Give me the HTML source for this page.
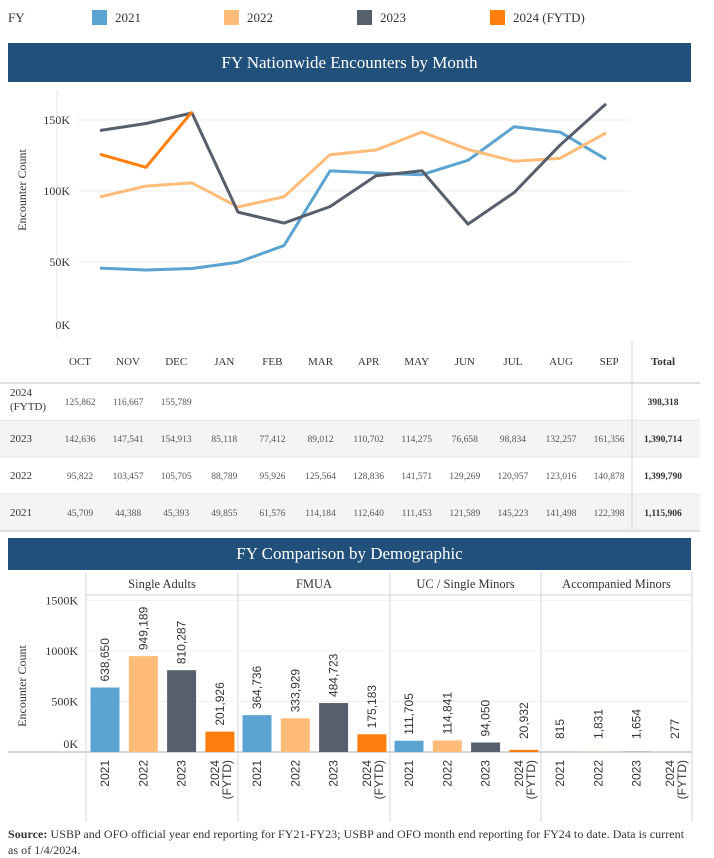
<!DOCTYPE html>
<html><head><meta charset="utf-8">
<style>
body{margin:0;width:714px;height:855px;background:#fff;font-family:"Liberation Serif",serif;color:#333;position:relative;overflow:hidden}
.abs{position:absolute}
.banner{position:absolute;left:8px;width:683px;background:#21507a;color:#fff;text-align:center;font-size:17px}
.lg{position:absolute;top:10px;font-size:13px}
.sw{display:inline-block;width:15px;height:15px;vertical-align:-3px;margin-right:8px}
</style></head><body>
<div class="lg" style="left:8px">FY</div>
<div class="lg" style="left:92px"><span class="sw" style="background:#5ba3d0"></span>2021</div>
<div class="lg" style="left:224px"><span class="sw" style="background:#ffbb78"></span>2022</div>
<div class="lg" style="left:357px"><span class="sw" style="background:#575f6d"></span>2023</div>
<div class="lg" style="left:490px"><span class="sw" style="background:#ff7f0e"></span>2024 (FYTD)</div>
<div class="banner" style="top:43px;height:39px;line-height:39px">FY Nationwide Encounters by Month</div>
<svg class="abs" style="left:0;top:0" width="714" height="855">
<g id="line"></g><g id="bars"></g>
</svg>
<div class="abs" style="left:8px;top:826px;width:706px;font-size:12px;line-height:16px;letter-spacing:0.05px;white-space:nowrap"><b>Source:</b> USBP and OFO official year end reporting for FY21-FY23; USBP and OFO month end reporting for FY24 to date. Data is current<br>as of 1/4/2024.</div>
<div class="banner" style="top:538px;height:32px;line-height:32px">FY Comparison by Demographic</div>
<script>
const months=["OCT","NOV","DEC","JAN","FEB","MAR","APR","MAY","JUN","JUL","AUG","SEP"];
const years=["2024\n(FYTD)","2023","2022","2021"];
const v2024=[125862,116667,155789];
const v2023=[142636,147541,154913,85118,77412,89012,110702,114275,76658,98834,132257,161356];
const v2022=[95822,103457,105705,88789,95926,125564,128836,141571,129269,120957,123016,140878];
const v2021=[45709,44388,45393,49855,61576,114184,112640,111453,121589,145223,141498,122398];
const lineTicks=[0,50000,100000,150000];
const lineTickLabels=["0K","50K","100K","150K"];
const groups=["Single Adults","FMUA","UC / Single Minors","Accompanied Minors"];
const barYears=["2021","2022","2023","2024 (FYTD)"];
const saVals=[638650,949189,810287,201926];
const fmuaVals=[364736,333929,484723,175183];
const ucVals=[111705,114841,94050,20932];
const amVals=[815,1831,1654,277];
const barTicks=[0,500000,1000000,1500000];
const barTickLabels=["0K","500K","1000K","1500K"];
const colors=["#5ba3d0","#ffbb78","#575f6d","#ff7f0e"];
const NS="http://www.w3.org/2000/svg";
const SANS='"Liberation Sans", sans-serif';
function mk(t,a,p,txt){const e=document.createElementNS(NS,t);for(const k in a)e.setAttribute(k,a[k]);if(txt!==undefined)e.textContent=txt;p.appendChild(e);return e;}
const fmt=v=>v.toLocaleString('en-US');
const L=document.getElementById('line');
const lx=i=>100+i*46;
const ly=v=>333-v*0.00142;
mk('line',{x1:57,y1:90,x2:57,y2:338,stroke:'#e6e6e6'},L);
lineTicks.forEach((t,i)=>{
 if(t>0){const g=mk('line',{x1:78,y1:ly(t),x2:630,y2:ly(t),stroke:'#eeeeee'},L);}
 const tx=mk('text',{x:70,y:t===0?ly(t)-4:ly(t)+4,'text-anchor':'end','font-size':12,fill:'#333'},L,lineTickLabels[i]);
 
});
const yt=mk('text',{x:26,y:190,'text-anchor':'middle','font-size':12,fill:'#333',transform:'rotate(-90 26 190)'},L,'Encounter Count');

[[v2021,colors[0],'line-2021'],[v2022,colors[1],'line-2022'],[v2023,colors[2],'line-2023'],[v2024,colors[3],'line-2024']].forEach(([arr,c,n])=>{
 const p=mk('polyline',{points:arr.map((v,i)=>lx(i)+','+ly(v)).join(' '),fill:'none',stroke:c,'stroke-width':3,'stroke-linejoin':'round'},L);
 
});
const cx=i=>80+i*48.1;
const rowsY=[383,420,457,494,531];
[1,3].forEach(r=>{const b=mk('rect',{x:0,y:rowsY[r],width:700,height:37,fill:'#f4f4f4'},L);});
mk('line',{x1:632,y1:340,x2:632,y2:531,stroke:'#d6d6d6'},L);
rowsY.forEach(y=>mk('line',{x1:0,y1:y,x2:700,y2:y,stroke:'#d6d6d6','stroke-width':y===383||y===531?1.5:0.5},L));
months.forEach((m,i)=>{const t=mk('text',{x:cx(i),y:365,'text-anchor':'middle','font-size':11,fill:'#333'},L,m);});
mk('text',{x:663,y:365,'text-anchor':'middle','font-size':11,'font-weight':'bold',fill:'#333'},L,'Total');
const rowData=[v2024,v2023,v2022,v2021];
rowData.forEach((arr,r)=>{
 const yc=rowsY[r]+22;
 if(r===0){mk('text',{x:10,y:yc-9,'font-size':11,fill:'#333'},L,'2024');mk('text',{x:10,y:yc+5,'font-size':11,fill:'#333'},L,'(FYTD)');}
 else mk('text',{x:10,y:yc,'font-size':11,fill:'#333'},L,years[r]);
 arr.forEach((v,i)=>{const t=mk('text',{x:cx(i),y:yc,'text-anchor':'middle','font-size':9.5,fill:'#555'},L,fmt(v));});
 const tot=mk('text',{x:663,y:yc,'text-anchor':'middle','font-size':9.5,'font-weight':'bold',fill:'#333'},L,fmt(arr.reduce((a,b)=>a+b,0)));
 
});
const B=document.getElementById('bars');
const by=v=>752-v*0.000101;
const px=[86,238,390,541,692];
mk('line',{x1:86,y1:595,x2:692,y2:595,stroke:'#d0d0d0'},B);
mk('line',{x1:8,y1:752,x2:692,y2:752,stroke:'#c8c8c8','stroke-width':1.5},B);
px.forEach(x=>mk('line',{x1:x,y1:572,x2:x,y2:822,stroke:'#d6d6d6'},B));
barTicks.forEach((t,i)=>{
 if(t>0)mk('line',{x1:86,y1:by(t),x2:692,y2:by(t),stroke:'#f0f0f0'},B);
 const tx=mk('text',{x:78,y:t===0?by(t)-4:by(t)+4,'text-anchor':'end','font-size':12,fill:'#333'},B,barTickLabels[i]);
 
});
const byt=mk('text',{x:26,y:686,'text-anchor':'middle','font-size':12,fill:'#333',transform:'rotate(-90 26 686)'},B,'Encounter Count');

[saVals,fmuaVals,ucVals,amVals].forEach((arr,g)=>{
 const gx=px[g];
 const h=mk('text',{x:(gx+px[g+1])/2,y:588,'text-anchor':'middle','font-size':12.5,fill:'#333'},B,groups[g]);
 
 arr.forEach((v,i)=>{
  const c=gx+19+i*38.3;
  const r=mk('rect',{x:c-14.5,y:by(v),width:29,height:752-by(v),fill:colors[i]},B);
  
  const ty=Math.min(by(v),745)-6;
  const lab=mk('text',{x:c+4,y:ty,'font-size':12,'font-family':SANS,fill:'#333',transform:`rotate(-90 ${c+4} ${ty})`},B,fmt(v));
  
  if(i<3){const t=mk('text',{x:c+4,y:760,'text-anchor':'end','font-size':12,'font-family':SANS,fill:'#333',transform:`rotate(-90 ${c+4} 760)`},B,barYears[i]);}
  else{const t=mk('text',{x:c-1,y:760,'text-anchor':'end','font-size':12,'font-family':SANS,fill:'#333',transform:`rotate(-90 ${c-1} 760)`},B,'2024');
   const t2=mk('text',{x:c+11,y:760,'text-anchor':'end','font-size':12,'font-family':SANS,fill:'#333',transform:`rotate(-90 ${c+11} 760)`},B,'(FYTD)');}
 });
});
</script>
</body></html>
